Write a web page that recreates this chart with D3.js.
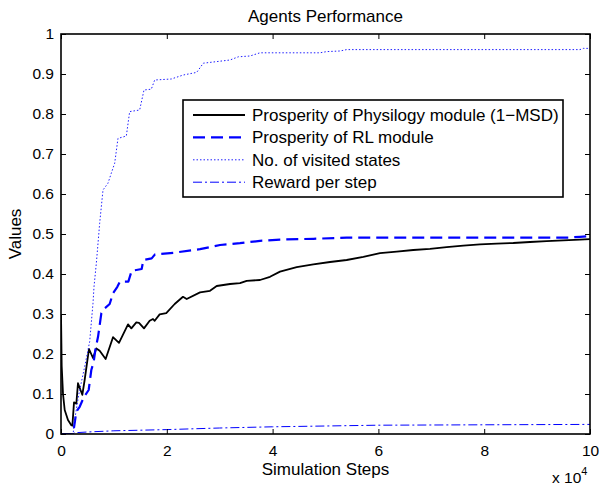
<!DOCTYPE html>
<html>
<head>
<meta charset="utf-8">
<script src="https://cdn.jsdelivr.net/npm/d3@7"></script>
<style>
  body { margin: 0; background: #fff; }
  svg text { font-family: "Liberation Sans", Arial, Helvetica, sans-serif; fill: #000; }
</style>
</head>
<body>
<div id="plotDiv"></div>
<script>
// --- data ---
const physSteps = [0, 130, 380, 700, 1320, 1950, 2150, 2460, 2900, 3210, 4030, 4470, 5290, 6050, 6680, 7310, 8440, 9830, 10960, 12670, 13300, 14240, 14750, 15690, 16760, 17390, 17710, 18650, 19900, 21490, 23060, 23760, 26280, 28170, 29430, 31950, 33840, 35100, 37620, 39510, 41400, 44560, 47700, 50850, 54000, 57150, 60300, 63460, 66600, 69750, 72900, 76050, 79200, 82360, 85500, 88660, 91800, 94950, 98100, 100000];
const physValues = [0.30, 0.17, 0.10, 0.06, 0.035, 0.022, 0.021, 0.079, 0.076, 0.127, 0.098, 0.135, 0.2125, 0.19, 0.214, 0.208, 0.1875, 0.242, 0.228, 0.274, 0.264, 0.279, 0.278, 0.264, 0.283, 0.2875, 0.283, 0.299, 0.302, 0.325, 0.343, 0.3375, 0.354, 0.358, 0.37, 0.375, 0.377, 0.383, 0.385, 0.393, 0.406, 0.417, 0.424, 0.43, 0.435, 0.443, 0.452, 0.456, 0.46, 0.463, 0.467, 0.471, 0.474, 0.476, 0.4775, 0.48, 0.482, 0.484, 0.486, 0.487];

const rlSteps = [0, 2300, 2500, 2900, 3530, 4350, 5230, 5730, 6170, 6490, 7000, 7630, 8250, 9200, 9830, 10650, 11150, 12730, 13360, 15250, 15570, 17140, 17770, 21230, 26280, 30060, 33840, 37620, 41400, 47700, 54000, 75000, 96000, 98100, 100000];
const rlValues = [0, 0, 0.02, 0.056, 0.068, 0.093, 0.11, 0.16, 0.18, 0.21, 0.243, 0.302, 0.314, 0.325, 0.352, 0.368, 0.381, 0.381, 0.408, 0.4125, 0.435, 0.439, 0.449, 0.453, 0.462, 0.4725, 0.477, 0.483, 0.486, 0.488, 0.491, 0.491, 0.491, 0.493, 0.495];

const visitedSteps = [0, 2300, 2460, 3340, 4470, 5420, 6050, 6240, 6680, 7000, 7310, 7940, 8880, 9510, 10150, 10770, 12350, 12980, 14870, 15690, 17070, 17710, 20850, 23120, 25650, 26900, 29430, 31950, 33520, 35730, 37620, 48960, 50230, 52740, 54000, 98100, 98740, 100000];
const visitedValues = [0, 0, 0.025, 0.0975, 0.168, 0.231, 0.327, 0.368, 0.427, 0.477, 0.527, 0.61, 0.627, 0.652, 0.677, 0.739, 0.745, 0.806, 0.81, 0.86, 0.862, 0.885, 0.8875, 0.8975, 0.904, 0.927, 0.931, 0.935, 0.943, 0.945, 0.953, 0.953, 0.956, 0.9575, 0.961, 0.961, 0.964, 0.964];

const rewardSteps = [0, 2300, 2500, 5000, 10000, 20000, 30000, 40000, 50000, 60000, 80000, 100000];
const rewardValues = [0, 0, 0.003, 0.005, 0.008, 0.011, 0.015, 0.018, 0.02, 0.022, 0.023, 0.024];

const seriesNames = ["Prosperity of Physilogy module (1\u2212MSD)", "Prosperity of RL module", "No. of visited states", "Reward per step"];
const xTicks = [0, 20000, 40000, 60000, 80000, 100000];
const yTicks = [0, 0.1, 0.2, 0.3, 0.4, 0.5, 0.6, 0.7, 0.8, 0.9, 1];

// --- layout ---
const margin = {top: 34, right: 9, bottom: 52, left: 61};
const width = 599 - margin.left - margin.right;
const height = 486 - margin.top - margin.bottom;

const svgRoot = d3.select("#plotDiv")
    .append("svg")
    .attr("width", 599)
    .attr("height", 486);

const svg = svgRoot.append("g")
    .attr("transform", `translate(${margin.left},${margin.top})`);

// --- scales ---
const x = d3.scaleLinear().domain([0, 100000]).range([0, width]);
const y = d3.scaleLinear().domain([0, 1]).range([height, 0]);

svg.append("clipPath").attr("id", "clip")
    .append("rect").attr("width", width).attr("height", height);

// --- lines ---
const series = [
  {steps: physSteps, values: physValues, color: "#000", w: 1.8, dash: null},
  {steps: rlSteps, values: rlValues, color: "#0000ff", w: 2.2, dash: "12,6"},
  {steps: visitedSteps, values: visitedValues, color: "#2020ff", w: 1, dash: "1.5,2"},
  {steps: rewardSteps, values: rewardValues, color: "#0000ff", w: 1, dash: "9,3,2,3"}
];

const line = d3.line()
    .x(d => x(d[0]))
    .y(d => y(d[1]));

const plot = svg.append("g").attr("clip-path", "url(#clip)");
series.forEach(s => {
  plot.append("path")
      .datum(d3.zip(s.steps, s.values))
      .attr("fill", "none")
      .attr("stroke", s.color)
      .attr("stroke-width", s.w)
      .attr("stroke-dasharray", s.dash)
      .attr("stroke-linejoin", "round")
      .attr("d", line);
});

// --- axes, ticks inside like matlab ---
function styleAxis(g) {
  g.select(".domain").remove();
  g.selectAll(".tick line").attr("stroke", "#000").attr("stroke-width", 1);
  g.selectAll(".tick text").style("font-size", "15.5px").attr("fill", "#000");
}

svg.append("g")
    .attr("transform", `translate(0,${height})`)
    .call(d3.axisBottom(x).tickValues(xTicks).tickSize(-5).tickPadding(11).tickFormat(d => d / 10000))
    .call(styleAxis);

svg.append("g")
    .call(d3.axisLeft(y).tickValues(yTicks).tickSize(-5).tickPadding(7).tickFormat(d3.format("")))
    .call(styleAxis);

svg.append("g")
    .call(d3.axisTop(x).tickValues(xTicks).tickSize(-5).tickFormat(""))
    .call(styleAxis);

svg.append("g")
    .attr("transform", `translate(${width},0)`)
    .call(d3.axisRight(y).tickValues(yTicks).tickSize(-5).tickFormat(""))
    .call(styleAxis);

svg.append("rect")
    .attr("width", width)
    .attr("height", height)
    .attr("fill", "none")
    .attr("stroke", "#000")
    .attr("stroke-width", 1.6);

// --- legend ---
const legend = svg.append("g").attr("transform", `translate(${183 - margin.left},${100 - margin.top})`);
legend.append("rect")
    .attr("width", 380)
    .attr("height", 97)
    .attr("fill", "#fff")
    .attr("stroke", "#000")
    .attr("stroke-width", 1.6);

series.forEach((s, i) => {
  const ly = 15 + i * 22.4;
  legend.append("line")
      .attr("x1", 10).attr("x2", 62)
      .attr("y1", ly).attr("y2", ly)
      .attr("stroke", s.color)
      .attr("stroke-width", s.w)
      .attr("stroke-dasharray", s.dash);
  legend.append("text")
      .attr("x", 69)
      .attr("y", ly)
      .attr("dy", "0.35em")
      .style("font-size", "17px")
      .text(seriesNames[i]);
});

// --- titles ---
svgRoot.append("text")
    .attr("x", margin.left + width / 2)
    .attr("y", 22)
    .attr("text-anchor", "middle")
    .style("font-size", "17px")
    .text("Agents Performance");

svgRoot.append("text")
    .attr("x", margin.left + width / 2)
    .attr("y", 475)
    .attr("text-anchor", "middle")
    .style("font-size", "17px")
    .text("Simulation Steps");

svgRoot.append("text")
    .attr("transform", `translate(21,${margin.top + height / 2}) rotate(-90)`)
    .attr("text-anchor", "middle")
    .style("font-size", "17px")
    .text("Values");

// x 10^4 exponent label
const expo = svgRoot.append("text")
    .attr("x", 552)
    .attr("y", 483)
    .style("font-size", "15.5px")
    .text("x 10");
expo.append("tspan")
    .attr("dy", -8)
    .style("font-size", "11px")
    .text("4");
</script>
</body>
</html>
